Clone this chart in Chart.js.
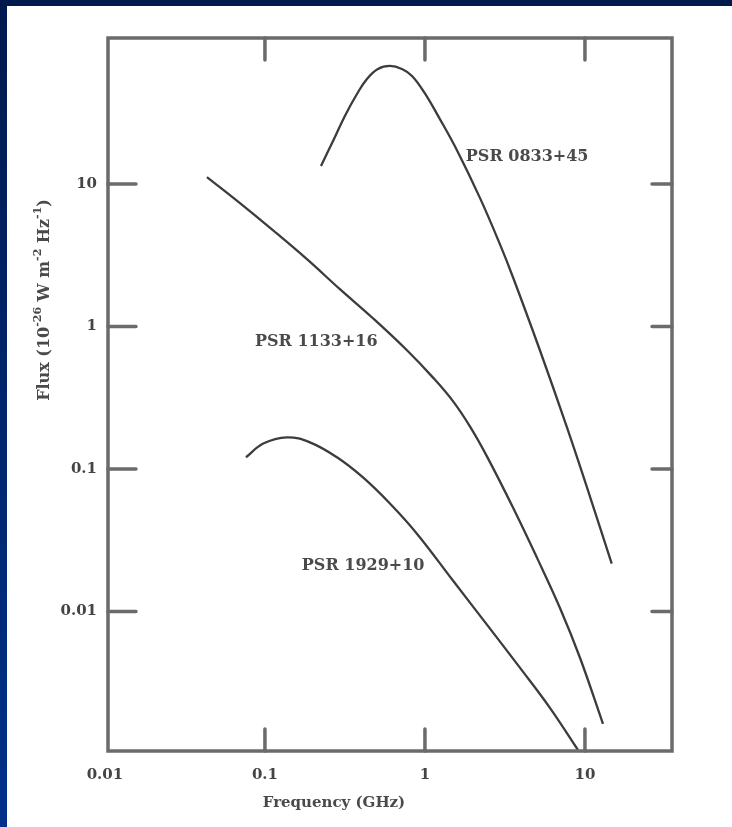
<!DOCTYPE html>
<html>
<head>
<meta charset="utf-8">
<script src="https://cdn.jsdelivr.net/npm/chart.js@4.4.0/dist/chart.umd.min.js"></script>
<style>
  html, body { margin: 0; padding: 0; background: #fff; }
  #frame {
    position: relative;
    width: 732px;
    height: 827px;
    background: linear-gradient(to bottom, #001a4e, #00318a);
  }
  #box {
    position: absolute;
    left: 7px;
    top: 6px;
    width: 725px;
    height: 821px;
    background: #fff;
  }
</style>
</head>
<body>
<div id="frame">
  <div id="box"><canvas id="chart" width="725" height="821"></canvas></div>
</div>
<script>
// Tick values (decades) on both log axes
const freqTicks = [0.01, 0.1, 1, 10];
const fluxTicks = [0.01, 0.1, 1, 10];

// Pulsar names
const pulsarNames = ['PSR 0833+45', 'PSR 1133+16', 'PSR 1929+10'];

// PSR 0833+45 spectrum (GHz, 1e-26 W m^-2 Hz^-1)
const psr0833Freq = [0.224, 0.266, 0.316, 0.376, 0.434, 0.508, 0.604, 0.718, 0.830, 0.986, 1.24, 1.585, 2.21, 2.94, 3.55, 5.23, 7.72, 10.7, 14.7];
const psr0833Flux = [13.4, 20.0, 30.1, 42.9, 54.7, 64.3, 67.5, 64.3, 57.4, 44.3, 28.6, 17.3, 7.97, 3.79, 2.22, 0.682, 0.196, 0.0652, 0.0217];

// PSR 1133+16
const psr1133Freq = [0.0434, 0.0698, 0.112, 0.183, 0.294, 0.473, 0.772, 1.12, 1.50, 1.91, 2.44, 3.55, 5.01, 6.98, 9.31, 12.96];
const psr1133Flux = [11.2, 7.35, 4.75, 2.97, 1.83, 1.144, 0.682, 0.440, 0.2985, 0.1993, 0.1228, 0.0537, 0.0239, 0.0106, 0.00474, 0.00163];

// PSR 1929+10
const psr1929Freq = [0.0761, 0.0976, 0.137, 0.191, 0.282, 0.410, 0.604, 0.891, 1.496, 2.44, 3.92, 6.04, 9.04];
const psr1929Flux = [0.121, 0.151, 0.167, 0.154, 0.121, 0.0873, 0.0573, 0.0352, 0.0165, 0.00809, 0.00404, 0.00211, 0.00107];

const toPoints = (xs, ys) => xs.map((x, i) => ({ x: x, y: ys[i] }));

const INK = '#3c3c3c';
const FRAME = '#6b6b6b';

function seriesStyle(label, data) {
  return {
    label: label,
    data: data,
    borderColor: INK,
    borderWidth: 2.3,
    pointRadius: 0,
    fill: false,
    tension: 0.4
  };
}

// box, inward tick marks, titles and curve labels
const decorPlugin = {
  id: 'decor',
  afterDatasetsDraw(chart) {
    const { ctx, chartArea: a, scales } = chart;
    const xs = scales.x, ys = scales.y;
    ctx.save();
    ctx.strokeStyle = FRAME;
    ctx.lineWidth = 3.5;
    ctx.lineCap = 'round';
    ctx.strokeRect(a.left, a.top, a.right - a.left, a.bottom - a.top);

    ctx.beginPath();
    fluxTicks.forEach(v => {
      const py = ys.getPixelForValue(v);
      ctx.moveTo(a.left, py); ctx.lineTo(a.left + 28, py);
      ctx.moveTo(a.right, py); ctx.lineTo(a.right - 20, py);
    });
    freqTicks.forEach(v => {
      const px = xs.getPixelForValue(v);
      if (px <= a.left + 4) return;
      ctx.moveTo(px, a.bottom); ctx.lineTo(px, a.bottom - 22);
      ctx.moveTo(px, a.top); ctx.lineTo(px, a.top + 22);
    });
    ctx.stroke();

    // curve labels
    ctx.fillStyle = '#4a4a4a';
    ctx.font = 'bold 16px "DejaVu Serif"';
    ctx.textAlign = 'left';
    ctx.textBaseline = 'middle';
    const anchors = [[1.80, 15.5], [0.0866, 0.776], [0.170, 0.021]];
    pulsarNames.forEach((name, i) => {
      ctx.fillText(name, xs.getPixelForValue(anchors[i][0]), ys.getPixelForValue(anchors[i][1]));
    });

    // x title
    ctx.font = 'bold 15px "DejaVu Serif"';
    ctx.textAlign = 'center';
    ctx.fillText('Frequency (GHz)', 327, 797);

    // y title with superscripts, rotated
    const parts = [
      ['Flux (10', false], ['-26', true], [' W m', false], ['-2', true],
      [' Hz', false], ['-1', true], [')', false]
    ];
    const big = 'bold 16px "DejaVu Serif"', small = 'bold 11px "DejaVu Serif"';
    let total = 0;
    parts.forEach(p => { ctx.font = p[1] ? small : big; total += ctx.measureText(p[0]).width; });
    ctx.translate(38, 294);
    ctx.rotate(-Math.PI / 2);
    ctx.textAlign = 'left';
    let cx = -total / 2;
    parts.forEach(p => {
      ctx.font = p[1] ? small : big;
      ctx.fillText(p[0], cx, p[1] ? -7 : 0);
      cx += ctx.measureText(p[0]).width;
    });
    ctx.restore();
  }
};

const decadeTicks = values => scale => {
  scale.ticks = values.map(v => ({ value: v }));
};

new Chart(document.getElementById('chart'), {
  type: 'line',
  data: {
    datasets: [
      seriesStyle(pulsarNames[0], toPoints(psr0833Freq, psr0833Flux)),
      seriesStyle(pulsarNames[1], toPoints(psr1133Freq, psr1133Flux)),
      seriesStyle(pulsarNames[2], toPoints(psr1929Freq, psr1929Flux))
    ]
  },
  options: {
    responsive: false,
    animation: false,
    layout: { padding: { top: 32, right: 60, left: 0, bottom: 0 } },
    plugins: {
      legend: { display: false },
      tooltip: { enabled: false }
    },
    scales: {
      x: {
        type: 'logarithmic',
        min: 0.01045,
        max: 35,
        afterBuildTicks: decadeTicks(freqTicks),
        afterFit: s => { s.height = 76; },
        grid: { display: false, drawTicks: false },
        border: { display: false },
        ticks: {
          padding: 15,
          color: '#444',
          font: { family: 'DejaVu Serif', size: 15, weight: 'bold' },
          maxRotation: 0,
          autoSkip: false,
          callback: v => String(v)
        }
      },
      y: {
        type: 'logarithmic',
        min: 0.00105,
        max: 106,
        afterBuildTicks: decadeTicks(fluxTicks),
        afterFit: s => { s.width = 101; },
        grid: { display: false, drawTicks: false },
        border: { display: false },
        ticks: {
          padding: 11,
          color: '#444',
          font: { family: 'DejaVu Serif', size: 15, weight: 'bold' },
          autoSkip: false,
          callback: v => String(v)
        }
      }
    }
  },
  plugins: [decorPlugin]
});
</script>
</body>
</html>
